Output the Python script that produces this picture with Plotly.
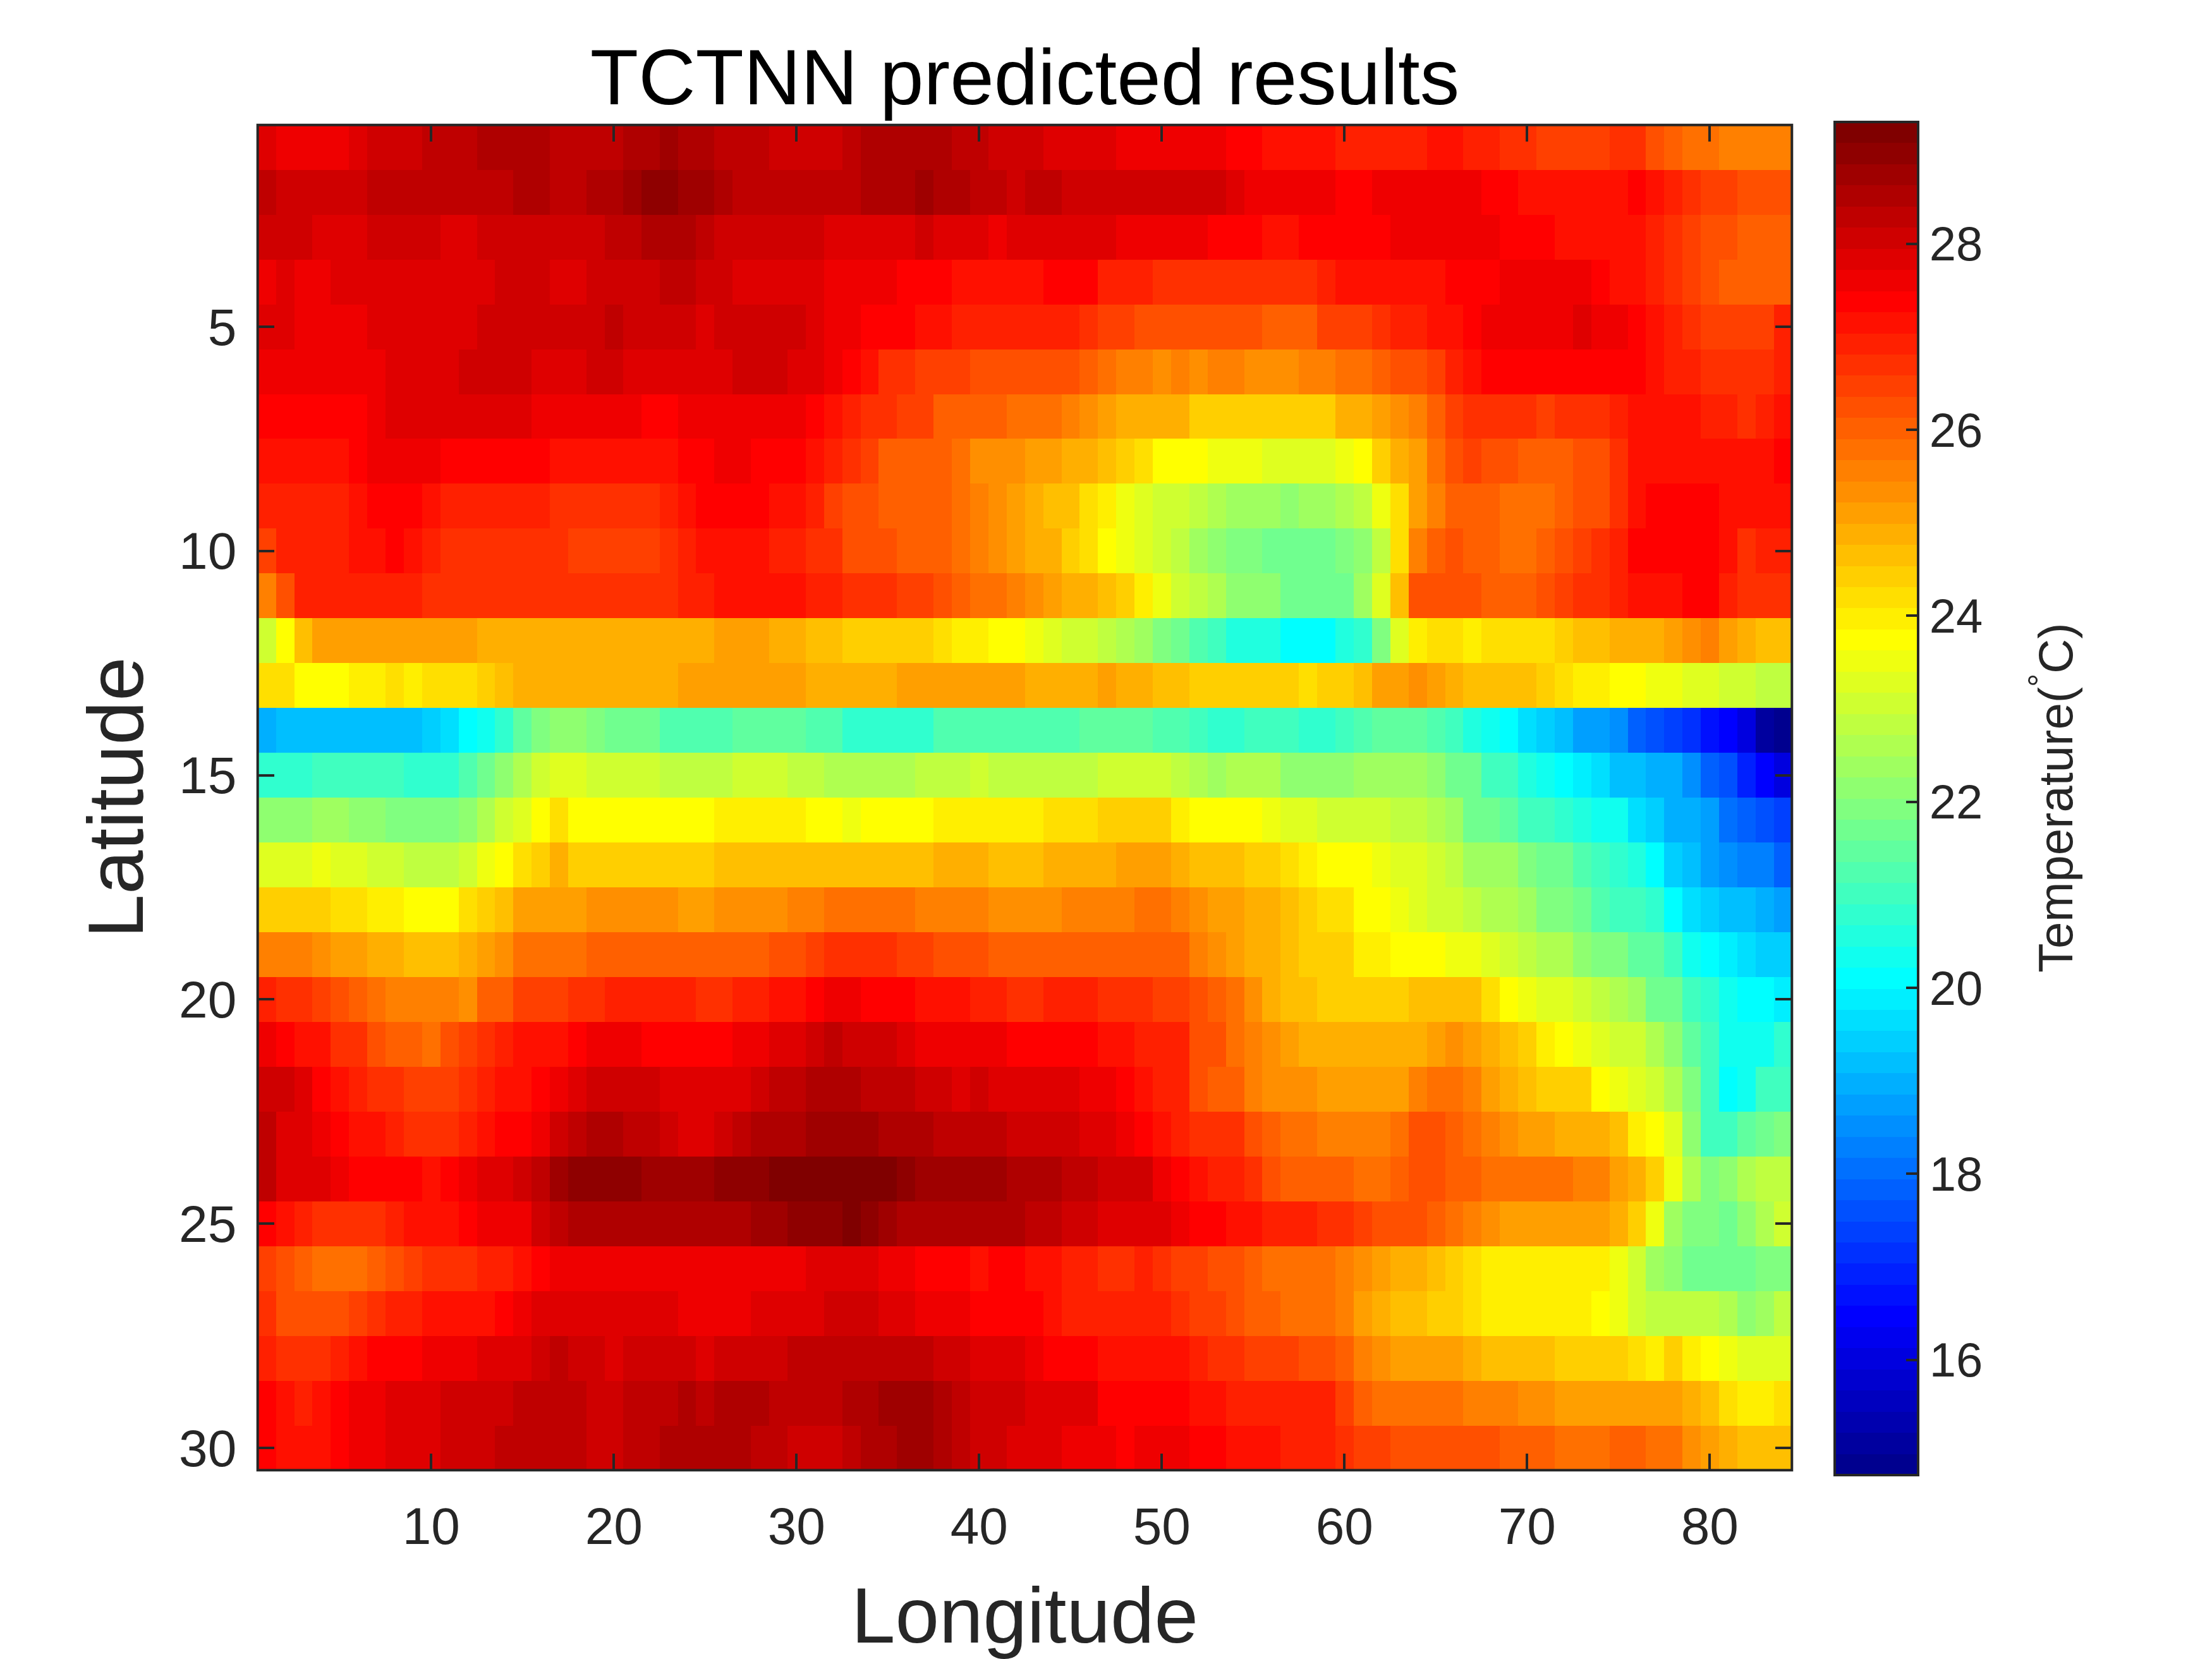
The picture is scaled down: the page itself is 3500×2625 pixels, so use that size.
import plotly.graph_objects as go

# Each row is a latitude; every pair is (last longitude index of a run, temperature in deg C)
row_01 = [(1,27.9),(5,27.6),(6,27.9),(9,28.1),(12,28.3),(16,28.5),(20,28.3),(22,28.5),(23,28.7),(25,28.5),(28,28.3),(32,28.1),(33,28.3),(38,28.5),(40,28.3),(43,28.1),(47,27.9),(53,27.6),(55,27.4),(59,27.2),(64,27.0),(66,27.2),(68,27.0),(70,26.8),(74,26.5),(76,26.8),(77,26.3),(78,26.1),(80,25.8),(84,25.6)]
row_02 = [(1,28.3),(6,28.1),(14,28.3),(16,28.5),(18,28.3),(20,28.5),(21,28.7),(23,29.0),(25,28.7),(26,28.5),(33,28.3),(36,28.5),(37,28.7),(39,28.5),(41,28.3),(42,28.1),(44,28.3),(53,28.1),(54,27.9),(59,27.6),(61,27.4),(67,27.6),(69,27.4),(75,27.2),(76,27.4),(77,27.2),(78,27.0),(79,26.8),(81,26.5),(84,26.3)]
row_03 = [(3,28.1),(6,27.9),(10,28.1),(12,27.9),(19,28.1),(21,28.3),(24,28.5),(25,28.3),(31,28.1),(36,27.9),(37,28.1),(40,27.9),(41,27.6),(47,27.9),(52,27.6),(55,27.4),(57,27.2),(62,27.4),(68,27.6),(71,27.4),(76,27.2),(77,27.0),(78,26.8),(79,26.5),(81,26.3),(84,26.1)]
row_04 = [(1,27.6),(2,27.9),(4,27.6),(13,27.9),(16,28.1),(18,27.9),(22,28.1),(24,28.3),(26,28.1),(31,27.9),(35,27.6),(38,27.4),(43,27.2),(46,27.4),(49,27.0),(58,26.8),(59,27.0),(65,27.2),(68,27.4),(73,27.6),(74,27.4),(76,27.2),(77,27.0),(78,26.8),(79,26.5),(80,26.3),(84,26.1)]
row_05 = [(2,27.9),(6,27.6),(12,27.9),(19,28.1),(20,28.3),(24,28.1),(25,27.9),(30,28.1),(31,27.9),(33,27.6),(36,27.4),(38,27.2),(45,27.0),(46,26.8),(48,26.5),(55,26.3),(58,26.1),(61,26.5),(62,26.8),(64,27.0),(66,27.2),(67,27.4),(72,27.6),(73,27.9),(75,27.6),(76,27.4),(77,27.2),(78,27.0),(79,26.8),(83,26.5),(84,27.0)]
row_06 = [(7,27.6),(11,27.9),(15,28.1),(18,27.9),(20,28.1),(26,27.9),(29,28.1),(31,27.9),(32,27.6),(33,27.4),(34,27.2),(36,26.8),(39,26.5),(45,26.3),(46,26.1),(47,25.8),(49,25.6),(50,25.4),(51,25.6),(52,25.4),(54,25.6),(57,25.4),(59,25.6),(61,25.8),(62,26.1),(64,26.3),(65,26.5),(66,27.0),(67,27.2),(76,27.4),(77,27.2),(79,27.0),(83,26.8),(84,27.0)]
row_07 = [(6,27.4),(7,27.6),(15,27.9),(21,27.6),(23,27.4),(30,27.6),(31,27.4),(32,27.2),(33,27.0),(35,26.8),(37,26.5),(41,26.1),(44,25.9),(45,25.6),(46,25.4),(47,25.2),(51,24.9),(59,24.5),(60,24.8),(61,25.0),(62,25.2),(63,25.4),(64,25.6),(65,26.1),(66,26.5),(70,26.8),(71,26.5),(74,26.8),(75,27.0),(79,27.2),(81,27.0),(82,26.8),(83,27.0),(84,27.2)]
row_08 = [(5,27.2),(6,27.4),(10,27.6),(16,27.4),(23,27.2),(25,27.4),(27,27.6),(30,27.4),(31,27.2),(32,27.0),(33,26.8),(34,26.5),(38,26.1),(39,25.8),(42,25.4),(44,25.2),(45,25.0),(46,24.9),(47,24.7),(48,24.5),(49,24.3),(52,23.8),(55,23.6),(59,23.4),(60,23.6),(61,23.8),(62,24.5),(63,24.9),(64,25.2),(65,25.8),(66,26.3),(67,26.5),(69,26.3),(72,26.1),(74,26.3),(75,26.8),(83,27.2),(84,27.4)]
row_09 = [(5,27.0),(6,27.2),(9,27.4),(10,27.2),(16,27.0),(22,26.8),(23,27.0),(24,27.2),(28,27.4),(30,27.2),(31,27.0),(32,26.5),(34,26.3),(38,26.1),(39,25.8),(40,25.6),(41,25.4),(42,25.2),(43,24.9),(45,24.6),(46,24.3),(47,24.0),(48,23.6),(49,23.4),(51,23.1),(52,22.9),(53,22.7),(56,22.5),(57,22.2),(59,22.5),(60,22.7),(61,22.9),(62,23.6),(63,24.3),(64,25.2),(65,25.6),(68,26.1),(71,25.8),(72,26.1),(74,26.3),(75,26.8),(76,27.2),(80,27.4),(84,27.2)]
row_10 = [(1,26.5),(5,27.0),(7,27.2),(8,27.4),(9,27.2),(10,27.0),(17,26.8),(22,26.5),(23,26.8),(24,27.0),(28,27.2),(30,27.0),(32,26.8),(35,26.3),(38,26.1),(39,25.8),(40,25.6),(41,25.4),(42,25.2),(43,24.9),(44,24.8),(45,24.5),(46,24.3),(47,23.8),(48,23.6),(49,23.4),(50,23.1),(51,22.9),(52,22.5),(53,22.2),(55,22.0),(59,21.8),(60,22.0),(61,22.2),(62,22.9),(63,24.3),(64,25.6),(65,26.1),(66,26.3),(68,26.1),(70,25.8),(71,26.1),(72,26.3),(73,26.5),(74,26.8),(75,27.0),(80,27.4),(81,27.2),(82,26.8),(84,27.0)]
row_11 = [(1,25.6),(2,26.3),(9,27.0),(23,26.8),(25,27.0),(30,27.2),(32,27.0),(35,26.8),(37,26.5),(38,26.3),(39,26.1),(41,25.8),(42,25.6),(43,25.4),(44,25.2),(45,24.9),(46,24.8),(47,24.6),(48,24.4),(49,24.0),(50,23.6),(51,23.1),(52,22.9),(53,22.7),(56,22.2),(60,21.8),(61,22.5),(62,23.4),(63,24.7),(67,26.3),(70,26.1),(71,26.3),(72,26.5),(74,26.8),(75,27.0),(78,27.2),(80,27.4),(81,27.0),(84,26.8)]
row_12 = [(1,23.1),(2,23.8),(3,24.7),(12,25.2),(25,24.9),(28,25.2),(30,24.9),(32,24.7),(37,24.5),(38,24.2),(40,24.0),(42,23.8),(43,23.6),(44,23.4),(46,23.1),(47,22.9),(48,22.7),(49,22.5),(50,22.0),(51,21.8),(52,21.3),(53,21.1),(56,20.6),(59,20.2),(60,20.6),(61,20.9),(62,22.0),(63,23.4),(64,24.0),(66,24.3),(67,24.0),(71,24.3),(72,24.5),(74,24.7),(77,24.9),(78,25.2),(79,25.4),(80,25.6),(81,25.2),(82,24.9),(84,24.7)]
row_13 = [(2,24.3),(5,23.8),(7,24.0),(8,24.3),(9,24.0),(12,24.3),(13,24.5),(14,24.7),(23,24.9),(30,25.2),(35,24.9),(42,25.2),(46,24.9),(47,25.2),(49,24.9),(51,24.7),(57,24.5),(58,24.3),(60,24.5),(61,24.7),(63,25.2),(64,25.4),(65,25.2),(66,24.9),(70,24.7),(71,24.5),(72,24.3),(74,24.0),(76,23.8),(78,23.6),(80,23.4),(82,23.1),(84,22.9)]
row_14 = [(1,19.0),(9,19.3),(10,19.5),(11,19.7),(12,20.2),(13,20.4),(14,20.9),(15,21.5),(16,22.0),(18,22.2),(19,22.0),(22,21.8),(26,21.3),(30,21.5),(32,21.3),(37,20.9),(45,21.3),(49,21.5),(51,21.3),(52,21.1),(54,20.9),(57,21.1),(59,20.9),(60,21.1),(61,21.3),(64,21.5),(65,21.3),(66,21.1),(67,20.6),(68,20.4),(69,20.2),(70,19.7),(71,19.5),(72,19.3),(74,18.8),(75,18.6),(76,17.9),(77,17.7),(78,17.5),(79,17.2),(80,16.8),(81,16.6),(82,16.1),(83,15.2),(84,14.9)]
row_15 = [(3,20.9),(8,21.1),(11,20.9),(12,21.3),(13,21.8),(14,22.2),(15,22.7),(16,23.1),(18,23.4),(22,23.1),(26,22.9),(29,23.1),(31,22.9),(36,22.7),(39,22.9),(40,23.1),(46,22.9),(50,23.1),(51,22.9),(52,22.7),(53,22.5),(56,22.7),(60,22.2),(64,22.5),(65,22.2),(67,21.8),(69,21.1),(70,20.6),(71,20.4),(72,20.2),(73,20.0),(74,19.7),(76,19.3),(78,19.0),(79,18.6),(80,17.9),(81,17.7),(82,17.0),(83,16.6),(84,16.1)]
row_16 = [(3,22.2),(5,22.5),(7,22.2),(11,22.0),(12,22.2),(13,22.7),(14,23.1),(15,23.4),(16,23.8),(17,24.3),(25,23.8),(30,24.0),(32,23.8),(33,23.6),(37,23.8),(43,24.0),(46,24.3),(50,24.4),(51,24.0),(55,23.8),(56,23.6),(58,23.4),(62,23.1),(64,22.9),(65,22.7),(66,22.5),(68,21.8),(69,21.5),(71,21.1),(72,20.9),(73,20.6),(75,20.4),(76,19.7),(77,19.5),(79,19.0),(80,18.8),(81,18.1),(82,17.9),(83,17.7),(84,17.5)]
row_17 = [(3,23.4),(4,23.6),(6,23.4),(8,23.1),(11,22.9),(12,23.1),(13,23.6),(14,23.8),(15,24.3),(16,24.5),(17,24.9),(25,24.5),(37,24.7),(40,24.9),(43,24.7),(47,24.9),(50,25.2),(51,24.9),(54,24.7),(56,24.5),(57,24.3),(58,24.0),(61,23.8),(62,23.6),(64,23.4),(65,23.1),(66,22.9),(69,22.5),(70,22.0),(72,21.8),(73,21.3),(74,21.1),(75,20.9),(76,20.6),(77,20.2),(78,19.5),(79,19.3),(80,18.8),(81,18.6),(83,18.4),(84,17.9)]
row_18 = [(4,24.5),(6,24.3),(8,24.0),(11,23.8),(12,24.2),(13,24.4),(14,24.7),(18,25.2),(23,25.4),(25,25.2),(29,25.4),(31,25.6),(36,25.8),(40,25.6),(44,25.4),(48,25.6),(50,25.8),(51,25.6),(52,25.4),(54,25.2),(55,24.9),(56,24.8),(57,24.6),(58,24.4),(60,24.3),(62,23.8),(63,23.6),(64,23.4),(66,23.1),(67,22.9),(69,22.7),(70,22.5),(72,22.0),(73,21.8),(74,21.3),(76,21.1),(77,20.9),(78,20.2),(79,19.7),(80,19.5),(82,19.3),(83,19.0),(84,18.8)]
row_19 = [(3,25.6),(4,25.4),(6,25.2),(8,24.9),(11,24.7),(12,24.9),(13,25.2),(14,25.4),(18,25.8),(28,26.1),(30,26.3),(31,26.5),(35,26.8),(37,26.5),(40,26.3),(51,26.1),(52,25.6),(53,25.4),(54,25.2),(55,24.9),(56,24.8),(57,24.6),(60,24.4),(62,24.0),(65,23.8),(67,23.6),(68,23.4),(69,23.1),(70,22.9),(72,22.7),(73,22.2),(75,22.0),(77,21.5),(78,21.1),(79,20.4),(80,20.2),(81,20.0),(82,19.7),(84,19.5)]
row_20 = [(1,27.0),(3,26.8),(4,26.5),(5,26.3),(6,26.1),(7,25.8),(11,25.6),(12,25.4),(14,26.1),(17,26.5),(19,26.8),(24,27.0),(26,26.8),(28,27.0),(30,27.2),(31,27.4),(33,27.6),(36,27.4),(39,27.2),(41,27.0),(43,26.8),(46,27.0),(49,26.8),(51,26.5),(52,26.3),(53,26.1),(54,25.8),(55,25.4),(56,24.9),(58,24.7),(62,24.5),(63,24.4),(67,24.7),(68,24.3),(69,23.8),(70,23.6),(72,23.4),(73,23.1),(74,22.9),(75,22.7),(76,22.5),(78,21.8),(79,21.1),(80,20.9),(81,20.4),(83,20.2),(84,20.0)]
row_21 = [(1,27.6),(2,27.4),(4,27.2),(6,26.8),(7,26.3),(9,26.1),(10,25.8),(11,26.3),(12,26.5),(13,26.8),(14,27.0),(17,27.2),(18,27.4),(21,27.6),(26,27.4),(28,27.6),(30,27.9),(31,28.1),(32,28.3),(35,28.1),(36,27.9),(41,27.6),(46,27.4),(48,27.2),(51,27.0),(53,26.3),(54,25.8),(55,25.6),(56,25.4),(57,25.2),(61,24.9),(63,24.8),(64,24.9),(65,25.2),(66,25.4),(67,25.2),(68,24.9),(69,24.7),(70,24.4),(71,24.0),(72,23.8),(73,23.6),(74,23.4),(76,23.1),(77,22.7),(78,22.2),(79,21.5),(80,21.1),(83,20.4),(84,20.9)]
row_22 = [(2,28.1),(3,27.9),(4,27.4),(5,27.2),(6,27.0),(8,26.8),(11,26.5),(12,26.8),(13,27.0),(15,27.2),(16,27.4),(17,27.6),(18,27.9),(22,28.1),(27,27.9),(28,28.1),(30,28.3),(33,28.5),(36,28.3),(38,28.1),(39,27.9),(40,28.1),(45,27.9),(47,27.6),(48,27.4),(49,27.2),(51,27.0),(52,26.3),(54,26.1),(55,25.6),(58,25.4),(63,25.2),(64,25.6),(66,25.8),(67,25.6),(68,25.2),(69,24.9),(70,24.7),(71,24.5),(73,24.4),(74,23.8),(75,23.6),(76,23.4),(77,23.1),(78,22.7),(79,22.0),(80,21.1),(81,20.2),(82,20.4),(84,21.1)]
row_23 = [(1,28.3),(3,27.9),(4,27.6),(5,27.4),(7,27.2),(8,27.0),(11,26.8),(12,27.0),(13,27.2),(15,27.4),(16,27.6),(17,28.2),(18,28.3),(20,28.5),(22,28.3),(23,28.1),(25,27.9),(26,28.1),(27,28.3),(30,28.5),(34,28.7),(37,28.5),(41,28.3),(45,28.1),(47,27.9),(48,27.6),(49,27.4),(50,27.2),(51,27.0),(54,26.8),(55,26.3),(56,26.1),(58,25.8),(62,25.6),(63,25.8),(65,26.3),(66,26.1),(67,25.8),(68,25.6),(69,25.4),(71,25.2),(72,24.9),(74,24.8),(75,24.6),(76,24.0),(77,23.8),(78,23.4),(79,22.2),(81,21.1),(82,21.5),(83,21.8),(84,22.0)]
row_24 = [(1,28.3),(4,27.9),(5,27.6),(9,27.4),(10,27.2),(11,27.4),(12,27.6),(14,27.9),(15,28.1),(16,28.3),(17,28.7),(21,29.0),(25,28.7),(28,29.0),(35,29.2),(36,29.0),(41,28.7),(44,28.5),(46,28.3),(49,28.1),(50,27.6),(51,27.4),(52,27.2),(54,27.0),(55,26.8),(56,26.3),(60,26.1),(62,25.8),(63,26.1),(65,26.3),(67,26.1),(72,25.8),(74,25.6),(75,25.2),(76,24.9),(77,24.4),(78,23.6),(79,22.7),(80,22.0),(81,22.2),(82,22.7),(84,22.9)]
row_25 = [(1,27.4),(2,27.2),(3,27.0),(7,26.8),(8,27.0),(11,27.2),(12,27.4),(15,27.6),(16,28.1),(17,28.3),(27,28.5),(29,28.7),(32,29.0),(33,29.2),(34,29.0),(35,28.7),(42,28.5),(44,28.3),(46,28.1),(50,27.9),(51,27.6),(53,27.4),(55,27.2),(58,27.0),(60,26.8),(61,26.5),(64,26.3),(65,26.1),(66,25.8),(67,25.6),(68,25.4),(74,25.2),(75,24.9),(76,24.4),(77,23.6),(78,22.5),(80,22.0),(81,21.8),(82,22.2),(83,22.7),(84,23.0)]
row_26 = [(1,26.5),(2,26.3),(3,26.1),(6,25.8),(7,26.1),(8,26.3),(9,26.5),(12,26.8),(14,27.0),(15,27.2),(16,27.4),(30,27.6),(34,27.9),(36,27.6),(39,27.4),(40,27.2),(42,27.4),(44,27.2),(46,27.0),(48,26.8),(49,27.0),(50,26.8),(52,26.5),(54,26.3),(55,26.1),(59,25.8),(60,25.6),(61,25.4),(62,25.2),(64,24.9),(65,24.7),(66,24.5),(67,24.3),(74,24.0),(75,23.6),(76,23.1),(77,22.5),(78,22.2),(81,21.8),(82,21.8),(84,22.0)]
row_27 = [(1,26.8),(5,26.3),(6,26.5),(7,26.8),(9,27.0),(13,27.2),(14,27.4),(15,27.6),(23,27.9),(27,27.6),(31,27.9),(34,28.1),(36,27.9),(39,27.6),(43,27.4),(44,27.2),(50,27.0),(51,26.8),(53,26.5),(54,26.3),(56,26.1),(59,25.8),(60,25.6),(61,25.2),(62,24.9),(64,24.7),(66,24.5),(67,24.3),(73,24.0),(74,23.8),(75,23.6),(76,23.1),(80,22.9),(81,22.7),(82,22.2),(83,22.5),(84,22.9)]
row_28 = [(1,27.0),(4,26.8),(5,27.0),(6,27.2),(9,27.4),(12,27.6),(15,27.9),(16,28.1),(17,28.3),(19,28.1),(20,27.9),(24,28.1),(25,27.9),(29,28.1),(37,28.3),(39,28.1),(42,27.9),(43,27.6),(46,27.4),(51,27.2),(52,27.0),(54,26.8),(57,26.5),(59,26.3),(60,26.1),(61,25.6),(62,25.4),(66,25.2),(67,24.9),(71,24.7),(75,24.5),(76,24.3),(77,24.0),(78,24.5),(79,24.0),(80,23.8),(81,23.6),(84,23.4)]
row_29 = [(1,27.4),(2,27.2),(3,27.0),(4,27.2),(5,27.4),(7,27.6),(10,27.9),(14,28.1),(18,28.3),(20,28.1),(23,28.3),(24,28.5),(25,28.3),(28,28.5),(32,28.3),(34,28.5),(37,28.7),(38,28.5),(39,28.3),(42,28.1),(46,27.9),(51,27.4),(53,27.2),(59,27.0),(60,26.5),(61,26.1),(66,25.8),(69,25.6),(71,25.4),(78,25.2),(79,24.9),(80,24.7),(81,24.3),(83,24.0),(84,24.3)]
row_30 = [(1,27.4),(4,27.2),(5,27.4),(7,27.6),(10,27.9),(13,28.1),(18,28.3),(20,28.1),(22,28.3),(27,28.5),(29,28.3),(32,28.1),(33,28.3),(35,28.5),(37,28.7),(38,28.5),(39,28.3),(41,28.1),(44,27.9),(47,27.6),(48,27.4),(51,27.6),(53,27.4),(56,27.2),(59,27.0),(60,26.8),(62,26.5),(68,26.3),(71,26.1),(74,25.8),(76,26.1),(78,25.8),(79,25.4),(80,25.2),(81,24.9),(84,24.7)]

rows = [row_01, row_02, row_03, row_04, row_05, row_06, row_07, row_08, row_09, row_10,
        row_11, row_12, row_13, row_14, row_15, row_16, row_17, row_18, row_19, row_20,
        row_21, row_22, row_23, row_24, row_25, row_26, row_27, row_28, row_29, row_30]

longitude = list(range(1, 85))
latitude = list(range(1, 31))
x_ticks = [10, 20, 30, 40, 50, 60, 70, 80]
y_ticks = [5, 10, 15, 20, 25, 30]
cbar_ticks = [16, 18, 20, 22, 24, 26, 28]
z_min, z_max = 14.76, 29.31
reading_bias = 0.03  # the one-decimal readings above were rounded slightly high


def expand(runs):
    out, start = [], 0
    for end, temp in runs:
        out.extend([round(temp - reading_bias, 2)] * (end - start))
        start = end
    return out


temperature = [expand(r) for r in rows]


def jet_rgb(i):
    # MATLAB jet(64) colormap entry, i is 1-based
    ramp = lambda v: max(0.0, min(1.0, v))
    r = ramp(min((i - 24) / 16, (72 - i) / 16))
    g = ramp(min((i - 8) / 16, (56 - i) / 16))
    b = ramp(min((i + 8) / 16, (40 - i) / 16))
    return f"rgb({round(r*255)},{round(g*255)},{round(b*255)})"


jet_scale = []
for k in range(1, 65):
    c = jet_rgb(k)
    jet_scale.append([(k - 1) / 64, c])
    jet_scale.append([k / 64, c])

W, H = 3500, 2625
L, R, T, B = 407.7, 2835.3, 197.7, 2326.3
INK = "#262626"
FONT = "Liberation Sans"

fig = go.Figure(go.Heatmap(
    z=temperature, x=longitude, y=latitude,
    zmin=z_min, zmax=z_max, colorscale=jet_scale, zsmooth=False,
    colorbar=dict(
        x=2902.7 / W, xanchor="left", xpad=0,
        y=1 - 193 / H, yanchor="top", ypad=0,
        lenmode="fraction", len=2141 / H,
        thicknessmode="pixels", thickness=132,
        outlinecolor=INK, outlinewidth=4,
        ticks="inside", ticklen=21, tickwidth=4, tickcolor=INK,
        tickvals=cbar_ticks, tickprefix="\u2009",
        tickfont=dict(family=FONT, size=76, color=INK),
    ),
))

axis_common = dict(
    ticks="inside", ticklen=26, tickwidth=4, tickcolor=INK,
    showline=True, linecolor=INK, linewidth=1, mirror="allticks",
    showgrid=False, zeroline=False, automargin=False,
    tickfont=dict(family=FONT, size=82, color=INK),
)
fig.update_layout(
    width=W, height=H,
    margin=dict(l=0, r=0, t=0, b=0),
    paper_bgcolor="white", plot_bgcolor="white",
    font=dict(family=FONT, color=INK),
    title=dict(text="TCTNN predicted results", x=(L + R) / 2 / W, xanchor="center",
               y=1 - 121 / H, yanchor="middle",
               font=dict(family=FONT, size=125, color="black")),
    xaxis=dict(axis_common, domain=[L / W, R / W], range=[0.5, 84.5], tickvals=x_ticks,
               ticklabelstandoff=17,
               title=dict(text="Longitude", standoff=52, font=dict(family=FONT, size=125, color=INK))),
    yaxis=dict(axis_common, domain=[1 - B / H, 1 - T / H], range=[30.5, 0.5], tickvals=y_ticks,
               ticklabelstandoff=16,
               title=dict(text="Latitude", standoff=14, font=dict(family=FONT, size=125, color=INK))),
    shapes=[dict(type="rect", xref="paper", yref="paper", x0=L / W, x1=R / W,
                 y0=1 - B / H, y1=1 - T / H, line=dict(color=INK, width=4),
                 fillcolor="rgba(0,0,0,0)", layer="above")],
    annotations=[dict(text="Temperature(<sup>°</sup>C)", xref="paper", yref="paper",
                      x=3247 / W, y=1 - 1263 / H, showarrow=False, textangle=-90,
                      xanchor="center", yanchor="middle",
                      font=dict(family=FONT, size=76, color=INK))],
)

fig.write_html("out.html", config=dict(displayModeBar=False),
               post_script="document.body.style.margin='0';")
